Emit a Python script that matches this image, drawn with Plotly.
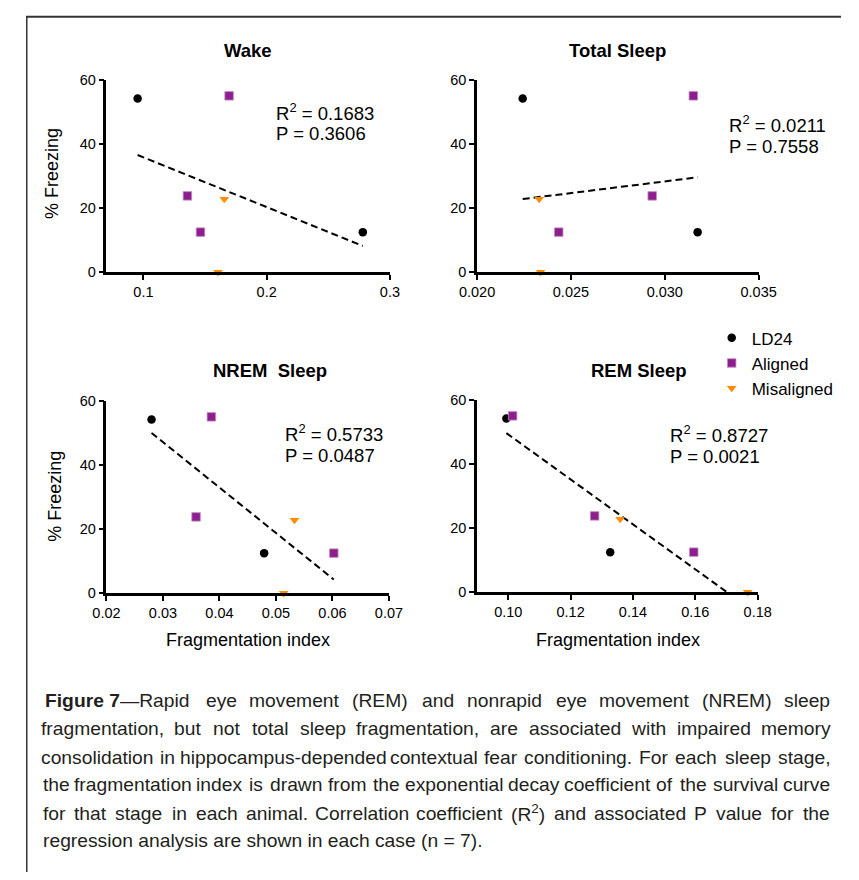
import numpy as np
import plotly.graph_objects as go

# ---------------- data ----------------
freezing_ld24 = [54.2, 12.5]
freezing_aligned = [55.0, 23.8, 12.5]
freezing_misaligned = [22.8, 0.0]

wake_ld24 = [0.0953, 0.278]
wake_aligned = [0.1695, 0.1357, 0.1463]
wake_misaligned = [0.1656, 0.1605]

total_ld24 = [0.02243, 0.03175]
total_aligned = [0.03152, 0.02933, 0.02435]
total_misaligned = [0.02331, 0.02338]

nrem_ld24 = [0.02798, 0.04791]
nrem_aligned = [0.03857, 0.03586, 0.06024]
nrem_misaligned = [0.05328, 0.05136]

rem_ld24 = [0.0994, 0.1327]
rem_aligned = [0.1014, 0.1277, 0.1595]
rem_misaligned = [0.1359, 0.1768]

panel_titles = ["Wake", "Total Sleep", "NREM\u00a0 Sleep", "REM Sleep"]
r2_values = ["0.1683", "0.0211", "0.5733", "0.8727"]
p_values = ["0.3606", "0.7558", "0.0487", "0.0021"]

wake_ticks = [0.1, 0.2, 0.3]
total_ticks = [0.020, 0.025, 0.030, 0.035]
nrem_ticks = [0.02, 0.03, 0.04, 0.05, 0.06, 0.07]
rem_ticks = [0.10, 0.12, 0.14, 0.16, 0.18]
freezing_ticks = [0, 20, 40, 60]

group_names = ["LD24", "Aligned", "Misaligned"]

caption_lines = [
    "<b>Figure 7</b>—Rapid eye movement (REM) and nonrapid eye movement (NREM) sleep",
    "fragmentation, but not total sleep fragmentation, are associated with impaired memory",
    "consolidation in hippocampus-depended contextual fear conditioning. For each sleep stage,",
    "the fragmentation index is drawn from the exponential decay coefficient of the survival curve",
    "for that stage in each animal. Correlation coefficient (R<sup>2</sup>) and associated P value for the",
    "regression analysis are shown in each case (n = 7).",
]

# ---------------- layout helpers ----------------
# the page body keeps an 8px margin, so the figure is offset by 8px
OFF = 8
W, H = 859 - OFF, 880 - OFF
def px(x):
    return (x - OFF) / W
def py(y):
    return 1 - (y - OFF) / H

FONT = "Liberation Sans, Arial, sans-serif"
styles = {
    "LD24": dict(symbol="circle", color="black", line=dict(width=0)),
    "Aligned": dict(symbol="square", color="#8c1f8c", line=dict(width=0.8, color="#c58ac5")),
    "Misaligned": dict(symbol="triangle-down", color="#ff8c00", line=dict(width=0)),
}

panels = [
    dict(x=[wake_ld24, wake_aligned, wake_misaligned], xr=[0.07, 0.3], ticks=wake_ticks, fmt=".1f",
         dom=(92, 388, 73, 269), title=(240, 43), stat=(269, 107, 128)),
    dict(x=[total_ld24, total_aligned, total_misaligned], xr=[0.020, 0.035], ticks=total_ticks, fmt=".3f",
         dom=(479, 773, 73, 269), title=(626, 43), stat=(742, 119, 140.5)),
    dict(x=[nrem_ld24, nrem_aligned, nrem_misaligned], xr=[0.02, 0.07], ticks=nrem_ticks, fmt=".2f",
         dom=(92, 387, 400, 596), title=(263, 369), stat=(278, 434, 456)),
    dict(x=[rem_ld24, rem_aligned, rem_misaligned], xr=[0.09, 0.18], ticks=rem_ticks, fmt=".2f",
         dom=(479, 772, 399, 595), title=(648, 369), stat=(680, 435, 457)),
]
ys = [freezing_ld24, freezing_aligned, freezing_misaligned]

fig = go.Figure()
annotations = []

def add_text(x, y, text, size, anchor="center", angle=0, color="black", family=FONT):
    annotations.append(dict(x=px(x), y=py(y), xref="paper", yref="paper", showarrow=False,
                            text=text, xanchor=anchor, yanchor="middle", textangle=angle,
                            borderpad=0, borderwidth=0,
                            font=dict(family=family, size=size, color=color)))

for i, p in enumerate(panels):
    ax = "" if i == 0 else str(i + 1)
    xa, ya = "x" + ax, "y" + ax
    # least-squares regression line over the data range
    allx = np.concatenate([np.array(v, float) for v in p["x"]])
    ally = np.concatenate([np.array(v, float) for v in ys])
    slope, intercept = np.polyfit(allx, ally, 1)
    lx = np.array([allx.min(), allx.max()])
    fig.add_trace(go.Scatter(x=lx, y=slope * lx + intercept, mode="lines", xaxis=xa, yaxis=ya,
                             line=dict(color="black", width=2, dash="7px,4px"), showlegend=False,
                             hoverinfo="skip"))
    for g, xv, yv in zip(group_names, p["x"], ys):
        st = styles[g]
        fig.add_trace(go.Scatter(x=xv, y=yv, mode="markers", xaxis=xa, yaxis=ya, name=g,
                                 legendgroup=g, showlegend=(i == 0), cliponaxis=False,
                                 marker=dict(symbol=st["symbol"], color=st["color"], size=8.5,
                                             line=st["line"])))
    x0, x1, y0, y1 = p["dom"]
    axis_common = dict(showline=True, linewidth=2.5, linecolor="black", ticks="outside",
                       ticklen=5, tickwidth=2, tickcolor="black", showgrid=False, zeroline=False,
                       tickfont=dict(family=FONT, size=14.5, color="black"))
    fig.update_layout(**{
        ("xaxis" + ax): dict(domain=[px(x0), px(x1)], range=p["xr"], tickvals=p["ticks"],
                            tickformat=p["fmt"], anchor=ya, **axis_common),
        ("yaxis" + ax): dict(domain=[py(y1), py(y0)], range=[0, 60], tickvals=freezing_ticks,
                            anchor=xa, **axis_common),
    })
    tx, ty = p["title"]
    add_text(tx, ty, "<b>" + panel_titles[i] + "</b>", 18.5)
    sx, sy1, sy2 = p["stat"]
    add_text(sx, sy1 - 1, "R<sup>2</sup> = " + r2_values[i], 18.5, anchor="left")
    add_text(sx, sy2, "P = " + p_values[i], 18.5, anchor="left")

for (x, y) in [(35, 168), (38, 497)]:
    add_text(x, y, "% Freezing", 18, angle=-90)
for (x, y) in [(240, 644), (626, 644)]:
    add_text(x, y, "Fragmentation index", 18)

# ---------------- caption (justified by word placement) ----------------
AW = {' ': 278, 'a': 556, 'b': 556, 'c': 500, 'd': 556, 'e': 556, 'f': 278, 'g': 556, 'h': 556,
      'i': 222, 'j': 222, 'k': 500, 'l': 222, 'm': 833, 'n': 556, 'o': 556, 'p': 556, 'q': 556,
      'r': 333, 's': 500, 't': 278, 'u': 556, 'v': 500, 'w': 722, 'x': 500, 'y': 500, 'z': 500,
      'A': 667, 'B': 667, 'C': 722, 'D': 722, 'E': 667, 'F': 611, 'G': 778, 'H': 722, 'I': 278,
      'M': 833, 'N': 722, 'P': 667, 'R': 722, 'S': 667, '(': 333, ')': 333, '.': 278, ',': 278,
      '-': 333, '—': 1000, '=': 584, '2': 400, '7': 556}
CAP_L, CAP_R = 26, 847
cap_y = [705, 734, 763, 791, 820, 848]

def strip(s):
    for t in ["<b>", "</b>", "<sup>", "</sup>"]:
        s = s.replace(t, "")
    return s

def units(s):
    u = sum(AW.get(c, 556) for c in strip(s))
    return u * (1.1 if "<b>" in s else 1.0)

def split_words(line):
    words = line.replace("</b>—", "</b>— ").split(" ")
    if words[0] == "<b>Figure":
        words = [words[0] + " " + words[1] + words[2]] + words[3:]
    return words

natural = [sum(units(w) for w in split_words(l)) + AW[' '] * (len(split_words(l)) - 1)
           for l in caption_lines[:-1]]
CAP_SIZE = min(19.5, 0.955 * (CAP_R - CAP_L) * 1000 / max(natural))

for li, line in enumerate(caption_lines):
    if li == len(caption_lines) - 1:
        add_text(CAP_L, cap_y[li], line, CAP_SIZE, anchor="left", color="#231f20")
        continue
    words = split_words(line)
    ws = [units(w) * CAP_SIZE / 1000 for w in words]
    gap = (CAP_R - CAP_L - sum(ws)) / (len(words) - 1)
    xcur = CAP_L
    for w, wd in zip(words, ws):
        add_text(xcur + wd / 2, cap_y[li], w, CAP_SIZE, anchor="center", color="#231f20")
        xcur += wd + gap

shapes = [
    dict(type="line", xref="paper", yref="paper", x0=0, x1=1, y0=py(8.8), y1=py(8.8),
         line=dict(color="#333333", width=2)),
    dict(type="line", xref="paper", yref="paper", x0=px(8.8), x1=px(8.8), y0=py(8.8), y1=0,
         line=dict(color="#333333", width=1.5)),
]

fig.update_layout(
    width=W, height=H, margin=dict(l=0, r=0, t=0, b=0),
    paper_bgcolor="white", plot_bgcolor="white",
    annotations=annotations, shapes=shapes,
    showlegend=True,
    legend=dict(x=px(724), y=py(318), xanchor="left", yanchor="top", bgcolor="rgba(0,0,0,0)",
                font=dict(family=FONT, size=17, color="black"), itemwidth=30, tracegroupgap=0),
)

fig.write_html("out.html", config={"displayModeBar": False})
